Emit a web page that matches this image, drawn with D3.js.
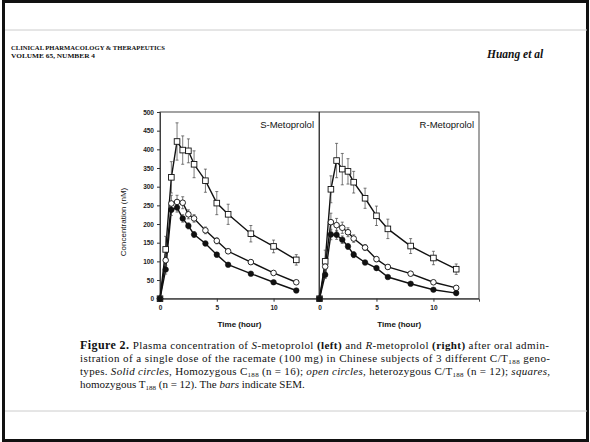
<!DOCTYPE html>
<html>
<head>
<meta charset="utf-8">
<script src="https://cdn.jsdelivr.net/npm/d3@7"></script>
<style>
  html, body { margin: 0; padding: 0; background: #fff; }
  svg { display: block; }
  .tick-label { font-family: "Liberation Sans", Arial, sans-serif; font-size: 6.5px; font-weight: bold; fill: #222; }
  .axis-title { font-family: "Liberation Sans", Arial, sans-serif; font-size: 8px; fill: #111; }
  .panel-title { font-family: "Liberation Sans", Arial, sans-serif; font-size: 9.5px; fill: #111; }
  .caption { font-family: "Liberation Serif", "Times New Roman", serif; font-size: 11px; fill: #111; }
</style>
</head>
<body>
<div id="chart"></div>
<script>
// ── Metoprolol plasma concentration, two panels ──

const times = [0, 0.5, 1, 1.5, 2, 2.5, 3, 4, 5, 6, 8, 10, 12];
const yTicks = [0, 50, 100, 150, 200, 250, 300, 350, 400, 450, 500];
const xTicks = [0, 5, 10];
const panelNames = ['S-Metoprolol', 'R-Metoprolol'];

// S-metoprolol (left)
const sSquares    = [0, 132, 325, 421, 398, 396, 360, 316, 256, 226, 174, 140, 104];
const sSquaresErr = [0, 35, 42, 50, 38, 32, 36, 31, 31, 27, 22, 17, 14];
const sOpen       = [0, 103, 255, 259, 257, 226, 215, 183, 155, 127, 98, 69, 44];
const sOpenErr    = [0, 15, 22, 18, 16, 12, 10, 9, 8, 6, 5, 4, 4];
const sSolid      = [0, 78, 238, 244, 215, 195, 172, 148, 118, 91, 67, 44, 22];
const sSolidErr   = [0, 12, 15, 12, 10, 8, 8, 6, 6, 5, 4, 3, 3];

// R-metoprolol (right)
const rSquares    = [0, 100, 293, 370, 347, 341, 312, 269, 222, 187, 141, 109, 79];
const rSquaresErr = [0, 30, 36, 46, 42, 34, 29, 27, 26, 26, 20, 18, 14];
const rOpen       = [0, 86, 205, 197, 190, 178, 161, 137, 106, 85, 67, 44, 29];
const rOpenErr    = [0, 15, 24, 18, 15, 12, 10, 8, 7, 6, 5, 4, 3];
const rSolid      = [0, 64, 172, 171, 158, 140, 118, 97, 82, 58, 40, 24, 15];
const rSolidErr   = [0, 10, 14, 12, 10, 8, 8, 6, 5, 4, 3, 3, 2];

const W = 590, H = 442;
const plotTop = 112, plotBottom = 298.7;
const panelX = [[160, 319], [319.5, 479]];

const svg = d3.select('#chart').append('svg')
    .attr('width', W)
    .attr('height', H);

// page frame and rules
svg.append('rect')
    .attr('x', 3.5).attr('y', 1.5)
    .attr('width', W - 6).attr('height', H - 3)
    .attr('fill', 'none')
    .attr('stroke', '#111')
    .attr('stroke-width', 3);
svg.append('line').attr('x1', 5).attr('x2', W - 3).attr('y1', 30).attr('y2', 30)
    .attr('stroke', '#ccc').attr('stroke-width', 1);
svg.append('line').attr('x1', 5).attr('x2', W - 3).attr('y1', 411).attr('y2', 411)
    .attr('stroke', '#ccc').attr('stroke-width', 1);

// running header
const header = svg.append('g')
    .attr('font-family', '"Liberation Serif", "Times New Roman", serif')
    .attr('fill', '#111');
header.append('text').attr('x', 11).attr('y', 50)
    .attr('font-size', 5.8).attr('font-weight', 'bold')
    .attr('textLength', 154).attr('lengthAdjust', 'spacingAndGlyphs')
    .text('CLINICAL PHARMACOLOGY & THERAPEUTICS');
header.append('text').attr('x', 11).attr('y', 57.5)
    .attr('font-size', 5.8).attr('font-weight', 'bold')
    .attr('textLength', 84).attr('lengthAdjust', 'spacingAndGlyphs')
    .text('VOLUME 65, NUMBER 4');
header.append('text').attr('x', 487).attr('y', 58)
    .attr('font-size', 11.5).attr('font-weight', 'bold').attr('font-style', 'italic')
    .text('Huang et al');

const y = d3.scaleLinear().domain([0, 500]).range([plotBottom, plotTop]);

const panels = [
    { series: [
        { vals: sSquares, err: sSquaresErr, shape: 'square' },
        { vals: sOpen, err: sOpenErr, shape: 'open' },
        { vals: sSolid, err: sSolidErr, shape: 'solid' },
    ]},
    { series: [
        { vals: rSquares, err: rSquaresErr, shape: 'square' },
        { vals: rOpen, err: rOpenErr, shape: 'open' },
        { vals: rSolid, err: rSolidErr, shape: 'solid' },
    ]},
];

panels.forEach((p, i) => {
    const x = d3.scaleLinear().domain([0, 14]).range(panelX[i]);
    const g = svg.append('g');

    // frame
    g.append('rect')
        .attr('x', panelX[i][0]).attr('y', plotTop)
        .attr('width', panelX[i][1] - panelX[i][0]).attr('height', plotBottom - plotTop)
        .attr('fill', 'none').attr('stroke', '#333').attr('stroke-width', 0.9);

    // x axis
    const xAxis = d3.axisBottom(x).tickValues(xTicks).tickSize(3).tickPadding(4);
    const xa = g.append('g').attr('transform', `translate(0,${plotBottom})`).call(xAxis);
    xa.select('.domain').attr('stroke', '#333').attr('stroke-width', 0.9);
    xa.selectAll('line').attr('stroke', '#333');
    xa.selectAll('text').attr('class', 'tick-label').attr('font-size', null).attr('font-family', null);

    // y axis only on left panel
    if (i === 0) {
        const yAxis = d3.axisLeft(y).tickValues(yTicks).tickSize(3).tickPadding(3);
        const ya = g.append('g').attr('transform', `translate(${panelX[0][0]},0)`).call(yAxis);
        ya.select('.domain').attr('stroke', '#333').attr('stroke-width', 0.9);
        ya.selectAll('line').attr('stroke', '#333');
        ya.selectAll('text').attr('class', 'tick-label').attr('font-size', null).attr('font-family', null);

        g.append('text').attr('class', 'axis-title')
            .attr('transform', `translate(126,${222}) rotate(-90)`)
            .attr('text-anchor', 'middle')
            .text('Concentration (nM)');
    }

    g.append('text').attr('class', 'axis-title')
        .attr('x', (panelX[i][0] + panelX[i][1]) / 2).attr('y', 327)
        .attr('text-anchor', 'middle').attr('font-weight', 'bold')
        .text('Time (hour)');

    g.append('text').attr('class', 'panel-title')
        .attr('x', panelX[i][1] - 5).attr('y', 128)
        .attr('text-anchor', 'end')
        .text(panelNames[i]);

    const line = d3.line().x((d, k) => x(times[k])).y(d => y(d));

    p.series.forEach(s => {
        g.append('path').datum(s.vals)
            .attr('d', line)
            .attr('fill', 'none').attr('stroke', '#111').attr('stroke-width', 1.4);
    });

    // error bars (SEM)
    p.series.forEach(s => {
        const eb = g.append('g').attr('stroke', '#444').attr('stroke-width', 0.7);
        s.vals.forEach((v, k) => {
            const e = s.err[k];
            if (!e) return;
            const cx = x(times[k]);
            eb.append('line').attr('x1', cx).attr('x2', cx).attr('y1', y(v - e)).attr('y2', y(v + e));
            eb.append('line').attr('x1', cx - 1.5).attr('x2', cx + 1.5).attr('y1', y(v + e)).attr('y2', y(v + e));
            eb.append('line').attr('x1', cx - 1.5).attr('x2', cx + 1.5).attr('y1', y(v - e)).attr('y2', y(v - e));
        });
    });

    // markers
    p.series.forEach(s => {
        const m = g.append('g');
        s.vals.forEach((v, k) => {
            const cx = x(times[k]), cy = y(v);
            if (s.shape === 'square') {
                m.append('rect').attr('x', cx - 2.8).attr('y', cy - 2.8).attr('width', 5.6).attr('height', 5.6)
                    .attr('fill', '#fff').attr('stroke', '#111').attr('stroke-width', 0.9);
            } else if (s.shape === 'open') {
                m.append('circle').attr('cx', cx).attr('cy', cy).attr('r', 2.8)
                    .attr('fill', '#fff').attr('stroke', '#111').attr('stroke-width', 0.9);
            } else {
                m.append('circle').attr('cx', cx).attr('cy', cy).attr('r', 2.8)
                    .attr('fill', '#111').attr('stroke', '#111').attr('stroke-width', 0.5);
            }
        });
    });
});

// caption
const cap = svg.append('g').attr('class', 'caption');
const sub = (t, txt) => t.append('tspan').attr('font-size', 7).attr('dy', 2).text(txt);
const back = (t, txt) => t.append('tspan').attr('dy', -2).text(txt);

let t = cap.append('text').attr('x', 80).attr('y', 348.5)
    .attr('textLength', 469).attr('lengthAdjust', 'spacing');
t.append('tspan').attr('font-weight', 'bold').attr('font-size', 12).text('Figure 2. ');
t.append('tspan').text('Plasma concentration of ');
t.append('tspan').attr('font-style', 'italic').text('S');
t.append('tspan').text('-metoprolol ');
t.append('tspan').attr('font-weight', 'bold').text('(left)');
t.append('tspan').text(' and ');
t.append('tspan').attr('font-style', 'italic').text('R');
t.append('tspan').text('-metoprolol ');
t.append('tspan').attr('font-weight', 'bold').text('(right)');
t.append('tspan').text(' after oral admin-');

t = cap.append('text').attr('x', 80).attr('y', 361.5)
    .attr('textLength', 470).attr('lengthAdjust', 'spacing');
t.append('tspan').text('istration of a single dose of the racemate (100 mg) in Chinese subjects of 3 different C/T');
sub(t, '188');
back(t, ' geno-');

t = cap.append('text').attr('x', 80).attr('y', 374.5)
    .attr('textLength', 470).attr('lengthAdjust', 'spacing');
t.append('tspan').text('types. ');
t.append('tspan').attr('font-style', 'italic').text('Solid circles,');
t.append('tspan').text(' Homozygous C');
sub(t, '188');
back(t, ' (n = 16); ');
t.append('tspan').attr('font-style', 'italic').text('open circles,');
t.append('tspan').text(' heterozygous C/T');
sub(t, '188');
back(t, ' (n = 12); ');
t.append('tspan').attr('font-style', 'italic').text('squares,');

t = cap.append('text').attr('x', 80).attr('y', 387.5);
t.append('tspan').text('homozygous T');
sub(t, '188');
back(t, ' (n = 12). The ');
t.append('tspan').attr('font-style', 'italic').text('bars');
t.append('tspan').text(' indicate SEM.');
</script>
</body>
</html>
